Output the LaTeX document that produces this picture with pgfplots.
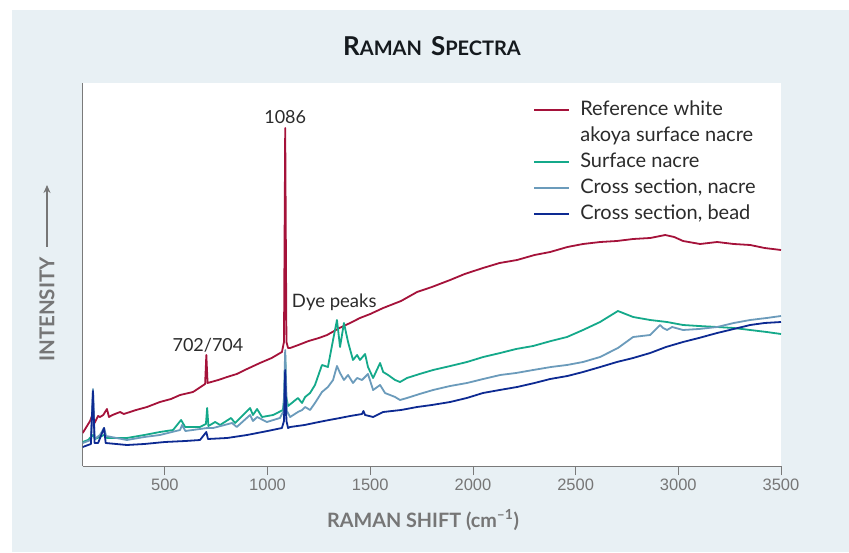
\documentclass[border=0pt]{standalone}
\usepackage{pgfplots}
\pgfplotsset{compat=1.18}
\usepackage{pgfplotstable}
\usetikzlibrary{arrows.meta}
\usepackage{fontspec}
\setmainfont{Lato}
\newfontfamily\tickfont{Liberation Sans}
\definecolor{bgblue}{HTML}{E8F0F4}
\definecolor{cred}{HTML}{A5123A}
\definecolor{cgreen}{HTML}{14A98A}
\definecolor{csteel}{HTML}{6B9BBB}
\definecolor{cnavy}{HTML}{0D2A92}
\definecolor{axgray}{HTML}{7A7A7A}
\definecolor{labgray}{HTML}{767676}
\definecolor{txt}{HTML}{2B2B2B}
\definecolor{titlec}{HTML}{151A1E}

\pgfplotstableread{
x y
100 33
136 45
150 53
158 43
175 50
184 49
200 51
218 57
228 49
245 51
282 54
300 52
315 53
360 56
413 59
476 64
530 67
574 71
637 74
696 82
702 111
708 83
760 86
803 89
850 92
900 97
963 103
1020 108
1070 114
1080 124
1086 338
1092 124
1100 118
1110 118
1150 121
1200 125
1250 128
1290 131
1350 138
1402 143
1450 148
1500 152
1563 158
1650 165
1728 174
1800 179
1889 186
1960 192
2049 198
2130 203
2215 206
2300 211
2376 214
2460 219
2536 222
2620 224
2701 225
2780 227
2863 228
2936 231
2980 229
3023 225
3106 222
3189 224
3270 222
3350 221
3420 218
3500 216
}\refdata

\pgfplotstableread{
x y
100 24
126 26
150 31
160 27
204 31
218 28
315 28
400 31
476 34
540 36
579 46
599 39
671 39
700 42
706 58
712 40
745 44
769 41
822 48
842 43
866 48
915 58
929 51
949 57
973 49
1027 51
1075 56
1082 70
1086 111
1090 70
1100 60
1148 68
1168 63
1183 69
1207 73
1231 81
1265 101
1294 99
1319 126
1338 146
1353 119
1372 143
1392 124
1416 106
1436 111
1450 106
1475 112
1489 99
1514 88
1548 103
1563 94
1587 91
1621 86
1645 84
1679 88
1740 92
1806 96
1890 100
1971 104
2050 109
2133 113
2210 117
2293 120
2380 125
2458 129
2536 136
2619 144
2706 155
2780 149
2863 146
2945 144
3023 141
3100 140
3189 139
3270 138
3350 136
3430 134
3500 132
}\surfdata

\pgfplotstableread{
x y
100 23
140 26
150 77
158 27
184 31
204 38
214 30
315 26
400 29
476 31
574 36
584 41
600 35
706 38
735 38
827 43
850 39
915 51
929 45
949 49
997 44
1060 48
1078 55
1086 116
1094 55
1110 49
1148 54
1168 56
1183 59
1207 56
1231 63
1265 74
1294 79
1319 86
1338 100
1353 93
1372 86
1392 91
1416 83
1436 88
1460 86
1489 92
1514 76
1548 81
1572 73
1621 69
1645 66
1679 68
1740 72
1806 76
1889 80
1971 83
2050 87
2133 91
2210 93
2293 96
2380 99
2458 101
2536 104
2619 109
2706 118
2780 129
2863 131
2911 141
2926 138
2945 136
2970 139
3023 136
3100 137
3189 139
3270 143
3350 146
3430 148
3500 150
}\crossnacre

\pgfplotstableread{
x y
100 19
140 22
150 75
158 23
175 23
204 38
212 23
315 21
400 22
500 24
600 25
671 26
702 34
710 27
803 28
900 31
1000 35
1070 38
1080 45
1086 96
1092 45
1100 38
1110 39
1180 41
1250 44
1300 46
1353 48
1402 50
1460 52
1467 55
1475 51
1514 49
1563 54
1650 56
1728 59
1800 61
1889 64
1970 68
2049 73
2130 76
2215 79
2300 83
2376 87
2460 90
2536 94
2620 99
2701 104
2780 108
2863 113
2940 119
3023 124
3100 128
3189 133
3270 137
3350 141
3420 143
3500 144
}\crossbead

\begin{document}
\begin{tikzpicture}
\fill[white] (-82.7pt,-86pt) rectangle (766.3pt,466pt);
\fill[bgblue] (-70.7pt,-86pt) rectangle (766.3pt,456pt);
\begin{axis}[
  at={(0pt,0pt)}, anchor=south west,
  width=698.3pt, height=383pt, scale only axis,
  xmin=100, xmax=3500, ymin=0, ymax=383,
  axis x line*=bottom, axis y line*=left,
  axis line style={draw=axgray, line width=0.9pt, -},
  axis background/.style={fill=white},
  ytick=\empty,
  xtick={500,1000,...,3500},
  tick align=outside,
  major tick length=9pt,
  tick style={draw=axgray, line width=0.8pt},
  /pgf/number format/assume math mode=true,
  /pgf/number format/1000 sep={},
  x tick label style={font=\tickfont\fontsize{16.5}{18}\selectfont, text=labgray},
  legend style={at={(0.645,0.958)}, anchor=north west, draw=none, fill=none,
    inner sep=0pt, column sep=8pt,
    font=\fontsize{20}{21}\selectfont, text=txt,
    nodes={text height=14pt, text depth=4pt, inner sep=2pt}, row sep=4pt},
  legend cell align=left,
  legend image code/.code={\draw[line width=2pt,#1] (0pt,0pt) -- (35pt,0pt);},
]
\addplot[cred, line width=1.8pt, line join=round, forget plot] table {\refdata};
\addplot[cgreen, line width=1.8pt, line join=round, forget plot] table {\surfdata};
\addplot[csteel, line width=1.8pt, line join=round, forget plot] table {\crossnacre};
\addplot[cnavy, line width=1.8pt, line join=round, forget plot] table {\crossbead};
\addlegendimage{draw=cred, line width=2pt}
\addlegendentry{Reference white}
\addlegendimage{empty legend}
\addlegendentry{akoya surface nacre}
\addlegendimage{draw=cgreen, line width=2pt}
\addlegendentry{Surface nacre}
\addlegendimage{draw=csteel, line width=2pt}
\addlegendentry{Cross section, nacre}
\addlegendimage{draw=cnavy, line width=2pt}
\addlegendentry{Cross section, bead}
\node[text=txt, font=\fontsize{18}{19}\selectfont] at (axis cs:1086,349) {1086};
\node[text=txt, font=\fontsize{18}{19}\selectfont] at (axis cs:710,121) {702/704};
\node[text=txt, font=\fontsize{18.5}{19}\selectfont, anchor=west, inner sep=0pt] at (axis cs:1118,164) {Dye peaks};
\end{axis}
\node[text=titlec, font=\bfseries] at (349.3pt,420pt) {{\fontsize{26}{27}\selectfont R}{\fontsize{20}{21}\selectfont AMAN}\hspace{9pt}{\fontsize{26}{27}\selectfont S}{\fontsize{20}{21}\selectfont PECTRA}};
\node[text=labgray, font=\bfseries\fontsize{19.8}{21}\selectfont] at (340.3pt,-54pt) {RAMAN SHIFT (cm\textsuperscript{–1})};
\node[text=labgray, font=\bfseries\fontsize{20.5}{21}\selectfont, rotate=90] at (-35.7pt,156.5pt) {INTENSITY};
\draw[-{Stealth[length=8pt,width=7pt]}, draw=labgray, line width=1.2pt] (-35.7pt,219pt) -- (-35.7pt,281pt);
\end{tikzpicture}
\end{document}
